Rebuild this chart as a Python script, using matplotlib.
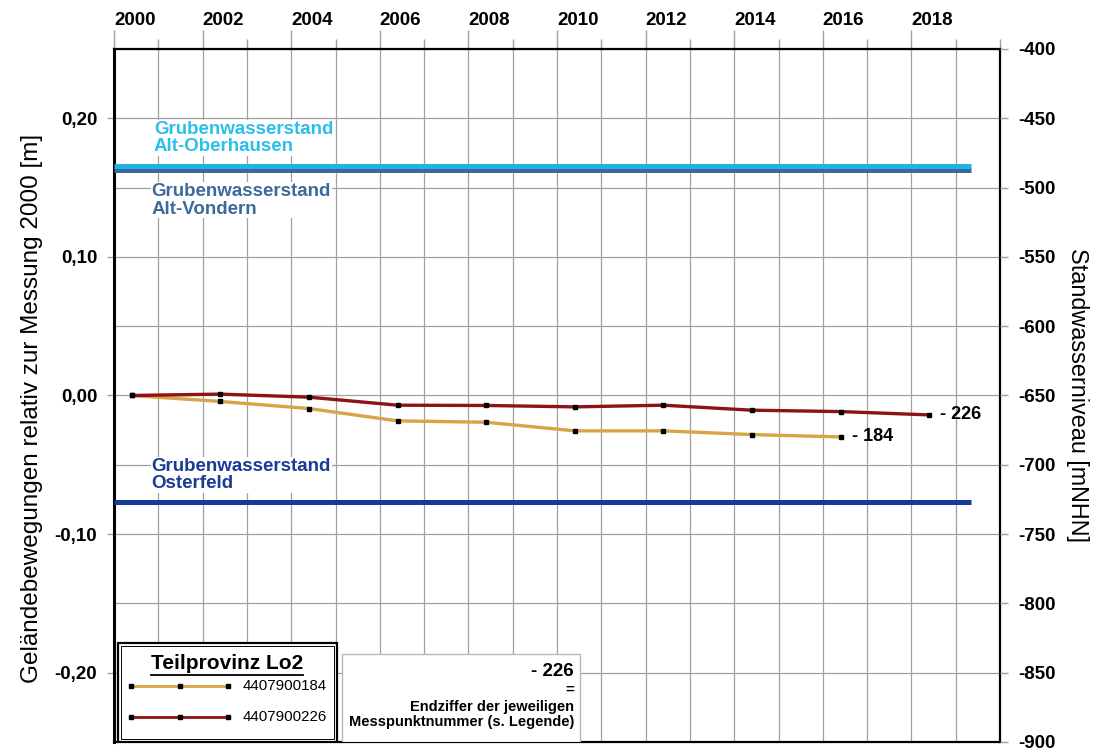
import matplotlib
matplotlib.use("Agg")
import matplotlib.pyplot as plt  # noqa: E402
from matplotlib.patches import Rectangle  # noqa: E402
from matplotlib.lines import Line2D  # noqa: E402
from matplotlib.ticker import MultipleLocator  # noqa: E402

plt.rcParams['font.family'] = ['Liberation Sans', 'DejaVu Sans']

# measurement dates (decimal years) and ground movement relative to 2000 [m]
years_184 = [2000.4, 2002.4, 2004.4, 2006.4, 2008.4, 2010.4, 2012.4, 2014.4, 2016.4]
move_184 = [0.0, -0.0043, -0.0094, -0.0183, -0.0193, -0.0255, -0.0255, -0.0282, -0.0299]
years_226 = [2000.4, 2002.4, 2004.4, 2006.4, 2008.4, 2010.4, 2012.4, 2014.4, 2016.4, 2018.4]
move_226 = [0.0, 0.001, -0.0012, -0.007, -0.0072, -0.0082, -0.007, -0.0106, -0.0116, -0.014]
point_ids = ["4407900184", "4407900226"]
end_tags = ["- 184", "- 226"]

# mine water levels [mNHN]
water_names = ["Grubenwasserstand\nAlt-Vondern", "Grubenwasserstand\nAlt-Oberhausen",
               "Grubenwasserstand\nOsterfeld"]
water_levels = [-487.5, -484.5, -727.0]
water_end = 2019.35

year_ticks = list(range(2000, 2020, 2))
left_ticks = [-0.20, -0.10, 0.0, 0.10, 0.20]
right_ticks = list(range(-900, -399, 50))

C_184 = "#d7a547"
C_226 = "#8e1216"
C_WATER = ["#3b6898", "#1fb3e5", "#173a98"]
C_WATER_TXT = ["#3d6a99", "#2bbfea", "#1a3c96"]
GRID = "#a0a0a0"

W, H = 1102, 751
fig = plt.figure(figsize=(W / 100, H / 100), dpi=100)
L, R, T, B = 114, 1000, 49, 742
ax = fig.add_axes([L / W, 1 - B / H, (R - L) / W, (B - T) / H])


def af(px, py):
    # pixel position -> axes fraction
    return (px - L) / (R - L), (B - py) / (B - T)


ax.set_xlim(2000, 2020)
ax.set_ylim(-0.25, 0.25)

# top year axis
ax.xaxis.tick_top()
ax.set_xticks(year_ticks)
ax.set_xticklabels([str(y) for y in year_ticks], ha="left", fontsize=13.5, fontweight="bold")
ax.xaxis.set_minor_locator(MultipleLocator(1))
ax.tick_params(axis="x", which="major", length=13.7, width=1, color=GRID, pad=1)
ax.tick_params(axis="x", which="minor", length=7, width=1, color=GRID)

ax.set_yticks(left_ticks)
ax.set_yticklabels([f"{v:.2f}".replace(".", ",") for v in left_ticks],
                   fontsize=13.5, fontweight="bold")
ax.yaxis.set_minor_locator(MultipleLocator(0.05))
ax.tick_params(axis="y", which="major", length=5, width=1, color=GRID, pad=7)
ax.tick_params(axis="y", which="minor", length=0)

ax.grid(True, which="both", color=GRID, linewidth=0.9)
ax.set_axisbelow(True)
for side, sp in ax.spines.items():
    sp.set_color("black")
    sp.set_linewidth(1.6)
ax.spines["left"].set_linewidth(2.2)

ax.set_ylabel("Geländebewegungen relativ zur Messung 2000 [m]", fontsize=17.5)
ax.yaxis.set_label_coords(*af(43, 408))

# series
ax.plot(years_184, move_184, color=C_184, lw=2.4, zorder=3)
ax.plot(years_184, move_184, ls="none", marker="s", ms=3.2, color="black", zorder=4)
ax.plot(years_226, move_226, color=C_226, lw=2.4, zorder=3)
ax.plot(years_226, move_226, ls="none", marker="s", ms=3.2, color="black", zorder=4)
for xs, ys, tag in [(years_184, move_184, end_tags[0]), (years_226, move_226, end_tags[1])]:
    ax.annotate(tag, (xs[-1], ys[-1]), xytext=(8, 0), textcoords="offset points",
                va="center", ha="left", fontsize=13, fontweight="bold", zorder=5)

# right axis: mine water level
ax2 = ax.twinx()
ax2.set_ylim(-900, -400)
ax2.set_yticks(right_ticks)
ax2.set_yticklabels([str(v) for v in right_ticks], fontsize=13.5, fontweight="bold")
ax2.tick_params(axis="y", length=5.8, width=1, color=GRID, pad=7)
for sp in ax2.spines.values():
    sp.set_visible(False)
ax2.set_ylabel("Standwasserniveau [mNHN]", fontsize=16.8, rotation=270, labelpad=24)

for lvl, col in zip(water_levels, C_WATER):
    ax2.plot([2000, water_end], [lvl, lvl], color=col, lw=3.6, solid_capstyle="butt",
             clip_on=False, zorder=3)

label_y = [-509.2, -464.3, -707.3]
label_x = [2000.85, 2000.9, 2000.85]
for name, col, lx, ly in zip(water_names, C_WATER_TXT, label_x, label_y):
    ax2.text(lx, ly, name, color=col, fontsize=13.5, fontweight="bold", va="center",
             ha="left", linespacing=1.05, zorder=4,
             bbox=dict(fc="white", ec="none", pad=0.5))

# legend box
x0, y0 = af(118, 742)
x1, y1 = af(337, 643)
ax2.add_patch(Rectangle((x0, y0), x1 - x0, y1 - y0, transform=ax2.transAxes,
                        fc="white", ec="black", lw=1.6, zorder=6))
xi0, yi0 = af(121, 739)
xi1, yi1 = af(334, 646)
ax2.add_patch(Rectangle((xi0, yi0), xi1 - xi0, yi1 - yi0, transform=ax2.transAxes,
                        fc="none", ec="black", lw=0.7, zorder=6))
tx, ty = af(227, 664)
title = ax2.text(tx, ty, "Teilprovinz Lo2", transform=ax2.transAxes, ha="center",
                 va="center", fontsize=15, fontweight="bold", zorder=7)
fig.canvas.draw()
bb = title.get_window_extent()
uy = (bb.y0 - 1.5) / H
fig.add_artist(Line2D([bb.x0 / W, bb.x1 / W], [uy, uy], color="black", lw=1.3, zorder=8))

for pid, col, py in zip(point_ids, [C_184, C_226], [686, 717]):
    xa, ya = af(131, py)
    xb, _ = af(228, py)
    xm, _ = af(180, py)
    ax2.plot([xa, xb], [ya, ya], color=col, lw=2.0, transform=ax2.transAxes, zorder=7,
             clip_on=False)
    ax2.plot([xa, xm, xb], [ya, ya, ya], ls="none", marker="s", ms=3.2, color="black",
             transform=ax2.transAxes, zorder=8, clip_on=False)
    lx, _ = af(243, py)
    ax2.text(lx, ya, pid, transform=ax2.transAxes, va="center", ha="left",
             fontsize=10.8, zorder=8)

# explanation box
ex0, ey0 = af(342, 742)
ex1, ey1 = af(580, 654)
ax2.add_patch(Rectangle((ex0, ey0), ex1 - ex0, ey1 - ey0, transform=ax2.transAxes,
                        fc="white", ec="#b8b8b8", lw=1.0, zorder=6))
rx, _ = af(574, 0)
for txt, py, fs in [("- 226", 672, 13.5), ("=", 690, 11), ("Endziffer der jeweiligen", 707, 10.5),
                    ("Messpunktnummer (s. Legende)", 722, 10.5)]:
    _, yy = af(0, py)
    ax2.text(rx, yy, txt, transform=ax2.transAxes, ha="right", va="center",
             fontsize=fs, fontweight="bold", zorder=7)

fig.savefig("out.png", dpi=100)
